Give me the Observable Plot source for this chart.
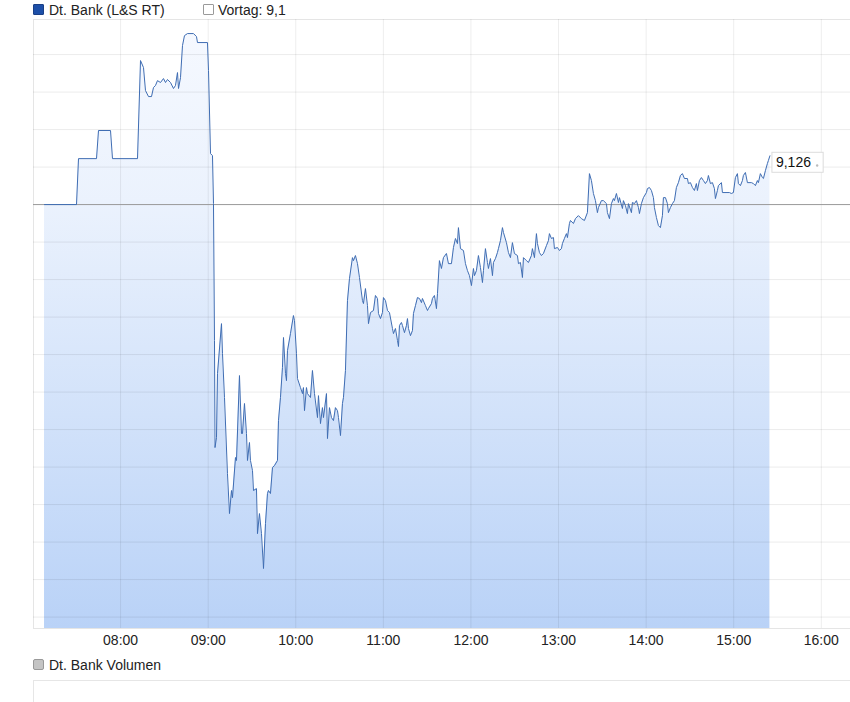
<!DOCTYPE html>
<html>
<head>
<meta charset="utf-8">
<script src="https://cdn.jsdelivr.net/npm/d3@7"></script>
<script src="https://cdn.jsdelivr.net/npm/@observablehq/plot@0.6"></script>
<style>
  html, body { margin: 0; padding: 0; background: #fff; }
  body { width: 850px; height: 702px; position: relative; overflow: hidden;
         font-family: "Liberation Sans", Arial, sans-serif; color: #222; }
  .leg { position: absolute; font-size: 14px; line-height: 14px; white-space: nowrap; z-index: 2; }
  .sw { position: absolute; width: 11px; height: 11px; box-sizing: border-box; border-radius: 1px; z-index: 2; }
  #chart { position: absolute; left: 0; top: 0; z-index: 1; }
  #volbox { position: absolute; left: 33px; top: 680px; width: 817px; height: 30px;
            border-top: 1px solid #e6e6e6; border-left: 1px solid #e6e6e6; }
</style>
</head>
<body>
<div class="sw" style="left:33px;top:4px;background:#1d4fa8;border:1px solid #1a3f86;"></div>
<div class="leg" id="leg1" style="left:49px;top:3px;"></div>
<div class="sw" style="left:203px;top:4px;background:#fff;border:1px solid #9a9a9a;"></div>
<div class="leg" id="leg2" style="left:218px;top:3px;"></div>
<div id="chart"></div>
<div class="sw" style="left:33px;top:659px;background:#c4c4c4;border:1px solid #999;border-radius:2px;"></div>
<div class="leg" id="leg3" style="left:49px;top:658px;"></div>
<div id="volbox"></div>
<script>
const seriesName = "Dt. Bank (L&S RT)";
const volumeName = "Dt. Bank Volumen";
const vortag = 9.1;
const hourTicks = ["08:00","09:00","10:00","11:00","12:00","13:00","14:00","15:00","16:00"];
const gridValues = [8.88,8.90,8.92,8.94,8.96,8.98,9.00,9.02,9.04,9.06,9.08,9.10,9.12,9.14,9.16,9.18];
const yDomain = [8.8739, 9.1987];
const xDomain = ["07:00:20", "16:20:00"];

const times = [
"07:07:53","07:29:48","07:31:10","07:43:30","07:44:52","07:53:05","07:54:27","08:11:35","08:13:38","08:15:41",
"08:17:03","08:19:07","08:21:10","08:22:32","08:23:54","08:25:16","08:27:20","08:29:23","08:30:45","08:32:07",
"08:34:11","08:36:14","08:37:36","08:38:58","08:39:40","08:41:02","08:42:24","08:43:46","08:45:49","08:49:56",
"08:51:59","08:52:40","08:59:31","09:00:13","09:01:35","09:02:57","09:03:38","09:04:19","09:04:40","09:05:41",
"09:06:23","09:09:07","09:09:48","09:11:10","09:13:13","09:14:35","09:15:58","09:16:39","09:18:42","09:19:23",
"09:21:26","09:22:49","09:23:30","09:24:52","09:26:14","09:26:55","09:28:17","09:28:58","09:30:21","09:31:02",
"09:33:05","09:33:46","09:35:08","09:36:31","09:37:53","09:39:15","09:40:37","09:41:18","09:42:40","09:44:02",
"09:45:25","09:47:28","09:48:09","09:49:31","09:50:53","09:51:35","09:52:57","09:53:38","09:54:19","09:56:22",
"09:58:25","09:59:07","10:00:29","10:01:10","10:03:13","10:04:35","10:05:16","10:05:58","10:07:20","10:08:01",
"10:10:04","10:11:26","10:12:49","10:14:52","10:15:33","10:16:55","10:18:17","10:18:58","10:21:02","10:21:43",
"10:23:05","10:24:27","10:25:49","10:27:11","10:28:34","10:29:15","10:30:37","10:31:59","10:32:40","10:34:02",
"10:35:25","10:36:47","10:38:50","10:39:31","10:40:53","10:42:16","10:43:38","10:45:41","10:46:22","10:47:44",
"10:49:07","10:49:48","10:51:10","10:53:13","10:54:35","10:55:58","10:56:39","10:58:01","10:59:23","11:00:04",
"11:01:26","11:02:49","11:04:11","11:06:14","11:06:55","11:08:17","11:09:40","11:10:21","11:11:02","11:12:24",
"11:13:05","11:14:27","11:15:49","11:16:31","11:17:12","11:18:34","11:19:56","11:20:37","11:21:59","11:23:22",
"11:24:44","11:26:06","11:26:47","11:28:50","11:30:13","11:30:53","11:32:57","11:33:38","11:35:00","11:36:22",
"11:37:04","11:38:25","11:39:47","11:41:10","11:43:13","11:44:35","11:46:38","11:48:01","11:49:23","11:50:45",
"11:51:26","11:52:49","11:54:52","11:56:14","11:57:36","11:58:58","12:00:20","12:01:43","12:02:24","12:03:46",
"12:05:08","12:06:31","12:07:53","12:08:34","12:09:56","12:11:18","12:11:59","12:13:22","12:14:44","12:15:25",
"12:16:47","12:18:09","12:18:50","12:20:13","12:21:35","12:22:16","12:24:19","12:25:41","12:27:03","12:28:25",
"12:29:47","12:31:51","12:32:32","12:33:54","12:35:16","12:35:58","12:38:01","12:39:23","12:41:26","12:42:07",
"12:43:30","12:44:52","12:45:33","12:46:55","12:48:17","12:49:40","12:51:43","12:53:05","12:53:46","12:55:08",
"12:56:31","12:57:11","12:59:15","13:00:37","13:01:59","13:02:40","13:04:02","13:05:25","13:06:06","13:07:28",
"13:08:09","13:10:13","13:11:35","13:13:38","13:15:41","13:17:44","13:19:47","13:21:10","13:22:32","13:23:54",
"13:25:16","13:26:38","13:27:20","13:29:23","13:30:45","13:32:49","13:33:29","13:34:52","13:36:14","13:37:36",
"13:38:17","13:39:40","13:41:02","13:41:43","13:43:46","13:44:27","13:45:49","13:47:11","13:47:53","13:49:56",
"13:50:37","13:51:59","13:53:22","13:54:44","13:55:25","13:56:47","13:58:09","14:00:13","14:00:53","14:02:16",
"14:03:38","14:05:00","14:05:41","14:07:03","14:08:25","14:09:47","14:11:10","14:11:51","14:13:13","14:14:35",
"14:15:16","14:16:38","14:18:01","14:19:23","14:20:45","14:22:07","14:23:30","14:24:52","14:26:14","14:28:17",
"14:28:58","14:30:21","14:31:43","14:33:05","14:34:27","14:35:08","14:36:31","14:37:53","14:39:15","14:40:37",
"14:41:59","14:42:40","14:44:02","14:45:25","14:46:47","14:47:28","14:48:50","14:49:31","14:51:35","14:52:16",
"14:57:03","14:58:25","14:59:47","15:01:10","15:02:32","15:03:13","15:04:35","15:05:58","15:06:38","15:08:01",
"15:09:23","15:12:07","15:13:30","15:14:52","15:16:14","15:16:55","15:18:17","15:19:40","15:20:21","15:21:43",
"15:23:05","15:23:46","15:24:48"
];

const prices = [
9.1000,9.1000,9.1245,9.1245,9.1395,9.1395,9.1245,9.1245,9.1768,9.1731,
9.1608,9.1576,9.1576,9.1624,9.1635,9.1661,9.1651,9.1672,9.1651,9.1667,
9.1651,9.1619,9.1635,9.1704,9.1619,9.1677,9.1848,9.1901,9.1912,9.1912,
9.1896,9.1864,9.1864,9.1715,9.1272,9.1261,9.1005,9.0275,8.9704,8.9757,
9.0099,9.0365,9.0205,8.9971,8.9565,8.9352,8.9475,8.9437,8.9651,8.9635,
9.0088,8.9779,8.9779,8.9939,8.9779,8.9635,8.9731,8.9635,8.9581,8.9475,
8.9485,8.9245,8.9352,8.9245,8.9059,8.9299,8.9459,8.9475,8.9459,8.9597,
8.9608,8.9635,8.9848,8.9971,9.0131,9.0291,9.0099,9.0061,9.0221,9.0312,
9.0408,9.0381,9.0205,9.0072,9.0024,8.9992,9.0024,8.9901,9.0024,8.9992,
8.9971,9.0115,8.9992,8.9864,8.9981,8.9832,8.9917,8.9864,8.9992,8.9752,
8.9917,8.9864,8.9848,8.9917,8.9901,8.9864,8.9768,8.9939,8.9971,9.0115,
9.0488,9.0605,9.0717,9.0701,9.0728,9.0685,9.0611,9.0488,9.0472,9.0552,
9.0461,9.0365,9.0424,9.0435,9.0515,9.0499,9.0419,9.0392,9.0424,9.0504,
9.0488,9.0435,9.0424,9.0339,9.0312,9.0339,9.0275,9.0243,9.0355,9.0371,
9.0355,9.0317,9.0355,9.0392,9.0339,9.0301,9.0328,9.0419,9.0461,9.0504,
9.0499,9.0477,9.0499,9.0461,9.0435,9.0445,9.0472,9.0499,9.0515,9.0445,
9.0525,9.0701,9.0659,9.0717,9.0739,9.0685,9.0685,9.0771,9.0819,9.0792,
9.0877,9.0765,9.0755,9.0685,9.0648,9.0621,9.0568,9.0659,9.0621,9.0648,
9.0728,9.0664,9.0584,9.0648,9.0765,9.0691,9.0659,9.0712,9.0621,9.0691,
9.0712,9.0744,9.0765,9.0808,9.0877,9.0851,9.0797,9.0744,9.0717,9.0797,
9.0739,9.0728,9.0685,9.0691,9.0611,9.0717,9.0701,9.0691,9.0728,9.0765,
9.0717,9.0845,9.0792,9.0744,9.0728,9.0739,9.0781,9.0808,9.0845,9.0819,
9.0824,9.0765,9.0771,9.0755,9.0765,9.0792,9.0819,9.0845,9.0824,9.0899,
9.0915,9.0899,9.0925,9.0941,9.0925,9.0915,9.0957,9.1165,9.1128,9.1059,
9.1021,9.0957,9.0984,9.1021,9.1021,9.1005,9.0957,9.0925,9.1005,9.1032,
9.1021,9.1059,9.1011,9.1037,9.0979,9.1021,9.0995,9.0952,9.1005,9.0957,
9.1011,9.1005,9.1021,9.0984,9.0952,9.1005,9.1037,9.1064,9.1085,9.1091,
9.1075,9.1037,9.0984,9.0931,9.0888,9.0877,9.0941,9.1037,9.1037,9.1005,
9.0957,9.0984,9.1005,9.1021,9.1091,9.1117,9.1155,9.1165,9.1139,9.1139,
9.1112,9.1117,9.1091,9.1075,9.1112,9.1075,9.1128,9.1144,9.1128,9.1112,
9.1128,9.1155,9.1112,9.1117,9.1085,9.1032,9.1075,9.1101,9.1117,9.1064,
9.1064,9.1059,9.1064,9.1144,9.1165,9.1112,9.1101,9.1128,9.1155,9.1171,
9.1117,9.1117,9.1112,9.1101,9.1128,9.1117,9.1165,9.1144,9.1139,9.1181,
9.1219,9.1235,9.1260
];

const day = s => new Date(`2024-01-01T${s}Z`);
const data = times.map((t, i) => ({t: day(t), v: prices[i]}));
const last = data[data.length - 1];
const fmt = v => v.toString().replace(".", ",");

document.getElementById("leg1").textContent = seriesName;
document.getElementById("leg2").textContent = "Vortag: " + fmt(vortag);
document.getElementById("leg3").textContent = volumeName;

const chart = Plot.plot({
  width: 850,
  height: 656,
  marginTop: 19,
  marginBottom: 28,
  marginLeft: 33,
  marginRight: 0,
  style: {fontFamily: "'Liberation Sans', Arial, sans-serif", fontSize: "14px", color: "#222", background: "transparent"},
  x: {type: "utc", domain: xDomain.map(day), ticks: hourTicks.map(day), tickFormat: d3.utcFormat("%H:%M"), tickSize: 0, tickPadding: 7, label: null},
  y: {domain: yDomain, axis: null},
  marks: [
    Plot.areaY(data, {x: "t", y1: yDomain[0], y2: "v", fill: "url(#pxgrad)"}),
    Plot.ruleY(gridValues, {stroke: "#000", strokeOpacity: 0.08}),
    Plot.ruleX(hourTicks.map(day), {stroke: "#000", strokeOpacity: 0.07}),
    Plot.frame({stroke: "#000", strokeOpacity: 0.1}),
    Plot.ruleY([vortag], {stroke: "#9b9b9b", strokeWidth: 1}),
    Plot.lineY(data, {x: "t", y: "v", stroke: "#3f6db3", strokeWidth: 1}),
    Plot.text([last], {x: "t", y: "v", text: d => d.v.toFixed(3).replace(".", ","), dx: 6, dy: 7, textAnchor: "start", fontSize: 14, fill: "#111"})
  ]
});

// gradient definition
const ns = "http://www.w3.org/2000/svg";
const defs = document.createElementNS(ns, "defs");
const grad = document.createElementNS(ns, "linearGradient");
grad.setAttribute("id", "pxgrad");
grad.setAttribute("gradientUnits", "userSpaceOnUse");
grad.setAttribute("x1", 0); grad.setAttribute("x2", 0);
grad.setAttribute("y1", 19); grad.setAttribute("y2", 628);
[["0", "#f6f9ff"], ["0.3", "#ebf2fd"], ["1", "#b9d2f7"]].forEach(([o, c]) => {
  const s = document.createElementNS(ns, "stop");
  s.setAttribute("offset", o); s.setAttribute("stop-color", c);
  grad.appendChild(s);
});
defs.appendChild(grad);
chart.insertBefore(defs, chart.firstChild);
document.getElementById("chart").appendChild(chart);

// value box around the last-value label (same local transform as the text)
const labelG = chart.querySelector('g[aria-label="text"]');
if (labelG) {
  const txt = labelG.querySelector("text");
  const bb = txt.getBBox();
  const tf = txt.getAttribute("transform") || "";
  const rect = document.createElementNS(ns, "rect");
  rect.setAttribute("transform", tf);
  rect.setAttribute("x", bb.x - 4);
  rect.setAttribute("y", bb.y - 2);
  rect.setAttribute("width", bb.width + 16);
  rect.setAttribute("height", bb.height + 4);
  rect.setAttribute("fill", "#fff");
  rect.setAttribute("stroke", "#dcdcdc");
  const dot = document.createElementNS(ns, "circle");
  dot.setAttribute("transform", tf);
  dot.setAttribute("cx", bb.x + bb.width + 6);
  dot.setAttribute("cy", bb.y + bb.height * 0.7);
  dot.setAttribute("r", 1.2);
  dot.setAttribute("fill", "#bbb");
  const tg = txt.parentNode;
  tg.insertBefore(rect, txt);
  tg.appendChild(dot);
}
</script>
</body>
</html>
